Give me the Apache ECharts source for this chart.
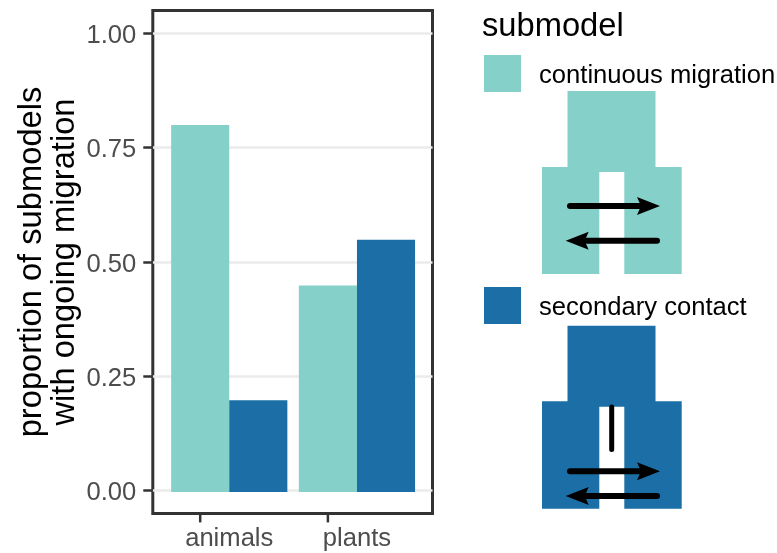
<!DOCTYPE html>
<html><head><meta charset="utf-8">
<style>html,body{margin:0;padding:0;background:#fff}#c{width:777px;height:553px}</style>
<script src="https://cdn.jsdelivr.net/npm/echarts@6/dist/echarts.min.js"></script>
</head><body><div id="c"></div>
<script>
const categories = ['animals', 'plants'];
const continuousMigration = [0.80, 0.45];
const secondaryContact = [0.20, 0.55];
const yTicks = [0, 0.25, 0.5, 0.75, 1];
const seriesNames = ['continuous migration', 'secondary contact'];
const colors = ['#85D1CA', '#1B6FA6'];
const FONT = '"Liberation Sans", Arial, sans-serif';

function arrow(y, x1, x2, dir) {
  // dir = 1: tip on the right at x2; dir = -1: tip on the left at x1
  const tip = dir > 0 ? x2 : x1;
  const tail = dir > 0 ? x1 + 3 : x2 - 3;
  return [
    { type: 'line', z: 10, shape: { x1: tail, y1: y, x2: tip - dir * 12, y2: y },
      style: { stroke: '#000', lineWidth: 6, lineCap: 'round' } },
    { type: 'polygon', z: 10, shape: { points: [[tip, y], [tip - dir * 23, y - 9], [tip - dir * 19, y], [tip - dir * 23, y + 9]] },
      style: { fill: '#000' } }
  ];
}
function schematic(color, top, shoulder, gapTop, bottom) {
  return [
    { type: 'polygon', z: 5, shape: { points: [
      [567.5, top], [655.5, top], [655.5, shoulder], [681.7, shoulder], [681.7, bottom],
      [624.3, bottom], [624.3, gapTop], [599.3, gapTop], [599.3, bottom], [542, bottom], [542, shoulder], [567.5, shoulder]
    ] }, style: { fill: color } }
  ];
}
const graphics = [
  { type: 'text', z: 10, style: { x: 482, y: 10, text: 'submodel', font: '32.7px ' + FONT, fill: '#000', textVerticalAlign: 'top' } },
  ...schematic(colors[0], 91, 167, 172, 274),
  ...arrow(206, 567, 660, 1),
  ...arrow(240.7, 565.7, 660, -1),
  ...schematic(colors[1], 325.7, 401.3, 406.7, 508.7),
  { type: 'line', z: 10, shape: { x1: 611.7, y1: 407, x2: 611.7, y2: 449.5 }, style: { stroke: '#000', lineWidth: 5, lineCap: 'round' } },
  ...arrow(471.3, 567, 660, 1),
  ...arrow(496, 565.7, 660, -1)
];
const legendBase = { orient: 'vertical', itemWidth: 37, itemHeight: 37, icon: 'rect', itemGap: 0, padding: 0,
  selectedMode: false,
  formatter: n => '{a|' + n + '}',
  textStyle: { fontFamily: FONT, fontSize: 25.6, color: '#000',
    rich: { a: { fontFamily: FONT, fontSize: 25.6, color: '#000', padding: [5, 0, 0, 13] } } } };
const chart = echarts.init(document.getElementById('c'), null, { renderer: 'canvas' });
chart.setOption({
  animation: false,
  backgroundColor: '#fff',
  grid: [
    { left: 152.8, top: 10.5, width: 279.7, height: 503, show: true, backgroundColor: '#fff', borderColor: '#333', borderWidth: 3, outerBoundsMode: 'none' },
    { left: 165.4, top: 10.3, width: 255.4, height: 504.6, outerBoundsMode: 'none' }
  ],
  legend: [
    Object.assign({}, legendBase, { left: 484, top: 55, data: [seriesNames[0]] }),
    Object.assign({}, legendBase, { left: 484, top: 287, data: [seriesNames[1]] })
  ],
  xAxis: [
    { gridIndex: 0, type: 'category', data: categories, show: false },
    { gridIndex: 1, type: 'category', data: categories, position: 'bottom',
      axisLine: { show: false, onZero: false },
      axisTick: { show: false },
      axisLabel: { fontFamily: FONT, fontSize: 25.6, color: '#4D4D4D', margin: 11 } }
  ],
  yAxis: [
    { gridIndex: 0, type: 'value', min: -0.05, max: 1.05,
      name: 'proportion of submodels\nwith ongoing migration', nameLocation: 'middle', nameRotate: 90, nameGap: 71,
      nameTextStyle: { fontFamily: FONT, fontSize: 32.7, color: '#000', lineHeight: 33, align: 'center' },
      axisLine: { show: false },
      axisTick: { show: true, length: 9.5, lineStyle: { color: '#333', width: 2.5 }, customValues: yTicks },
      axisLabel: { fontFamily: FONT, fontSize: 25.6, color: '#4D4D4D', margin: 16.5, customValues: yTicks,
        formatter: v => '{a|' + v.toFixed(2) + '}',
        rich: { a: { fontFamily: FONT, fontSize: 25.6, color: '#4D4D4D', padding: [5, 0, 0, 0] } } },
      splitLine: { show: true, lineStyle: { color: '#EBEBEB', width: 2.5 } } },
    { gridIndex: 1, type: 'value', min: -0.05, max: 1.05, show: false, splitLine: { show: false } }
  ],
  series: [
    { name: seriesNames[0], type: 'bar', xAxisIndex: 1, yAxisIndex: 1, data: continuousMigration, barWidth: '45.5%', barGap: '0%', itemStyle: { color: colors[0] },
      markPoint: { silent: true, symbol: 'rect', symbolSize: [2.5, 8], symbolOffset: [0, 3.5],
        label: { show: false }, itemStyle: { color: '#333' },
        data: categories.map(c => ({ xAxis: c, yAxis: -0.05 })) } },
    { name: seriesNames[1], type: 'bar', xAxisIndex: 1, yAxisIndex: 1, data: secondaryContact, barWidth: '45.5%', barGap: '0%', itemStyle: { color: colors[1] } }
  ],
  graphic: graphics
});
</script></body></html>
